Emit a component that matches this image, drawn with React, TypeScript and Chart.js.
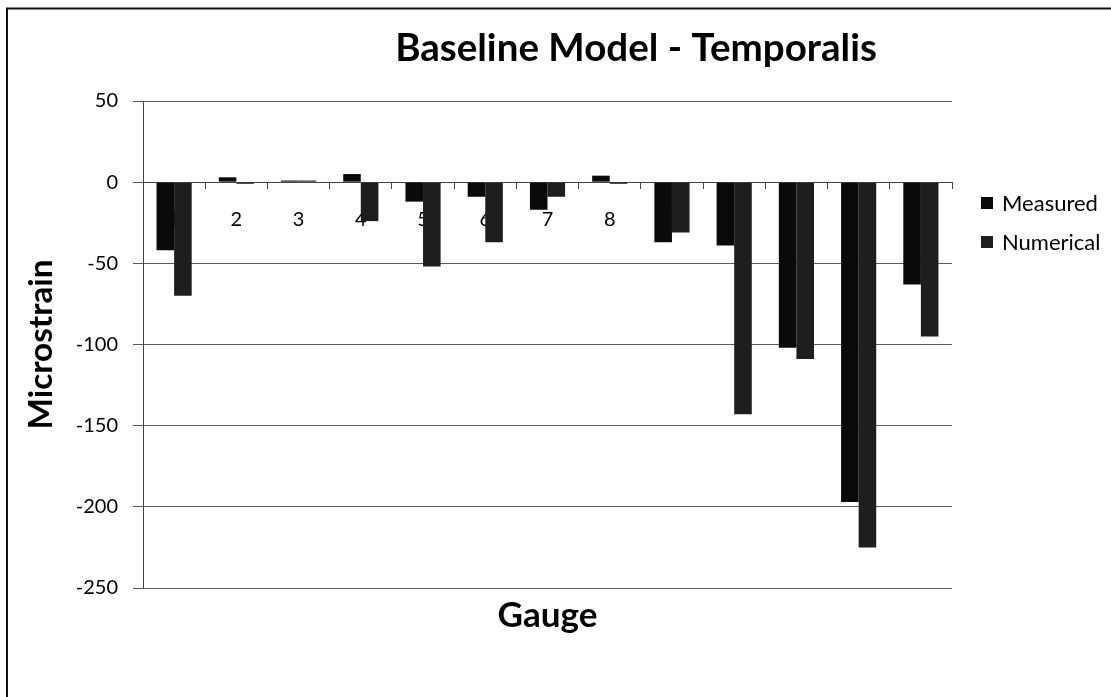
import { useEffect, useRef } from 'react';
import { Chart, registerables } from 'chart.js';

Chart.register(...registerables);

const gauges = ['1', '2', '3', '4', '5', '6', '7', '8', '9', '10', '11', '12', '13'];
const measured = [-42, 3, 1, 5, -12, -9, -17, 4, -37, -39, -102, -197, -63];
const numerical = [-70, -1, 1, -24, -52, -37, -9, -1, -31, -143, -109, -225, -95];
const yMin = -250;
const yMax = 50;
const yStep = 50;

const seriesNames = ['Measured', 'Numerical'];
const seriesColors = ['#0a0a0a', '#1e1e1e'];

const titleText = 'Baseline Model - Temporalis';
const yTitle = 'Microstrain';
const xTitle = 'Gauge';

const FONT = 'Lato, "Open Sans", sans-serif';

function fitFont(ctx: CanvasRenderingContext2D, text: string, weight: string, target: number) {
  ctx.font = `${weight} 100px ${FONT}`;
  const w = ctx.measureText(text).width;
  const size = (100 * target) / w;
  ctx.font = `${weight} ${size}px ${FONT}`;
}

const decorPlugin = {
  id: 'decor',
  afterDraw(chart: any) {
    const ctx: CanvasRenderingContext2D = chart.ctx;
    const area = chart.chartArea;
    ctx.save();
    ctx.strokeStyle = '#111';
    ctx.lineWidth = 2;
    ctx.beginPath();
    ctx.moveTo(7, 697);
    ctx.lineTo(7, 8.5);
    ctx.lineTo(1111, 8.5);
    ctx.stroke();

    ctx.fillStyle = '#000';
    fitFont(ctx, titleText, 'bold', 482);
    ctx.textAlign = 'center';
    ctx.textBaseline = 'alphabetic';
    ctx.fillText(titleText, 636, 61);

    fitFont(ctx, xTitle, 'bold', 100);
    ctx.fillText(xTitle, (area.left + area.right) / 2, 627);

    ctx.save();
    ctx.translate(52, (area.top + area.bottom) / 2);
    ctx.rotate(-Math.PI / 2);
    fitFont(ctx, yTitle, 'bold', 170);
    ctx.textAlign = 'center';
    ctx.fillText(yTitle, 0, 0);
    ctx.restore();

    const ys = [203, 242];
    chart.data.datasets.forEach((ds: any, i: number) => {
      ctx.fillStyle = ds.backgroundColor;
      ctx.fillRect(981, ys[i] - 6, 12, 12);
      ctx.fillStyle = '#000';
      fitFont(ctx, seriesNames[0], 'normal', 96);
      ctx.textAlign = 'left';
      ctx.textBaseline = 'middle';
      ctx.fillText(ds.label, 1002, ys[i] + 1);
    });
    ctx.restore();
  },
};

export default function App() {
  const ref = useRef<HTMLCanvasElement>(null);
  useEffect(() => {
    document.body.style.margin = '0';
    const canvas = ref.current!;
    const chart = new Chart(canvas, {
      type: 'bar',
      data: {
        labels: gauges,
        datasets: [
          { label: seriesNames[0], data: measured, backgroundColor: seriesColors[0], borderWidth: 0 },
          { label: seriesNames[1], data: numerical, backgroundColor: seriesColors[1], borderWidth: 0 },
        ],
      },
      options: {
        animation: false,
        responsive: false,
        devicePixelRatio: 1,
        layout: { padding: { left: 0, top: 101, right: 159, bottom: 109 } },
        datasets: { bar: { categoryPercentage: 0.565, barPercentage: 1 } },
        plugins: {
          legend: { display: false },
          title: { display: false },
          tooltip: { enabled: false },
        },
        scales: {
          x: {
            type: 'category',
            position: { y: 0 } as any,
            offset: true,
            grid: { display: true, drawOnChartArea: false, drawTicks: true, tickLength: 6, color: '#444', offset: true },
            border: { display: true, color: '#444', width: 1 },
            ticks: { padding: 19, color: '#000', font: { family: FONT, size: 20 }, maxRotation: 0, autoSkip: false },
            afterFit: (s: any) => { s.height = 0; },
          },
          y: {
            min: yMin,
            max: yMax,
            ticks: { stepSize: yStep, padding: 15, color: '#000', font: { family: FONT, size: 20 } },
            grid: { color: '#5a5a5a', tickLength: 10, drawTicks: true },
            border: { display: true, color: '#444', width: 1 },
            afterFit: (s: any) => { s.width = 143; },
          },
        },
      },
      plugins: [decorPlugin],
    });
    return () => chart.destroy();
  }, []);
  return <canvas ref={ref} width={1111} height={697} style={{ display: 'block' }} />;
}
